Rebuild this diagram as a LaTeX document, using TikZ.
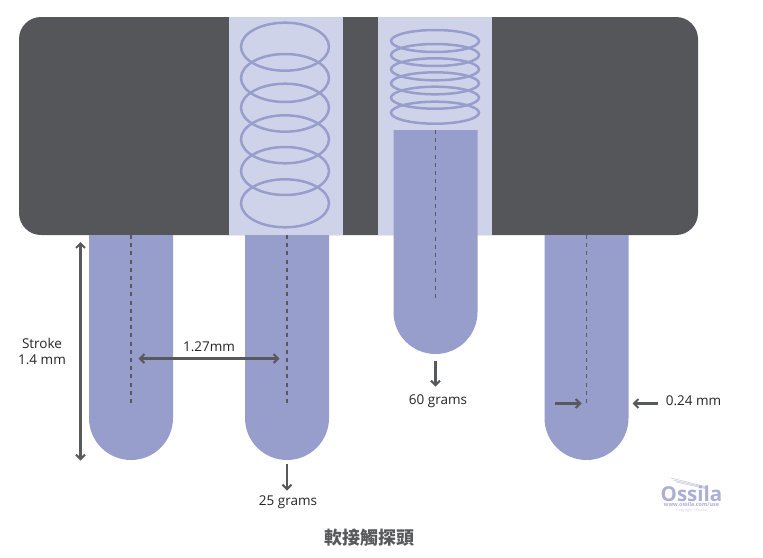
\documentclass[tikz,border=0pt]{standalone}
\usepackage{fontspec}
\setmainfont{Open Sans}
\newfontfamily\cjkfont{Noto Sans CJK TC}
\usetikzlibrary{arrows.meta}
\definecolor{bodygrey}{HTML}{55565A}
\definecolor{panel}{HTML}{CFD3EA}
\definecolor{pin}{HTML}{989ECC}
\definecolor{inkgrey}{HTML}{58595B}
\definecolor{logoc}{HTML}{ABAFD6}
\tikzset{
  x=1pt,y=-1pt,
  coil/.style={draw=pin,line width=2.5pt,fill=none},
  pinfill/.style={fill=pin,draw=none},
  centre/.style={draw=inkgrey,line width=1.9pt,dash pattern=on 4pt off 4.2pt},
  dim/.style={draw=inkgrey,line width=2.3pt,-{Straight Barb[length=4.5pt,width=9pt,line width=2pt]}},
  dimboth/.style={dim,{Straight Barb[length=4.5pt,width=9pt,line width=2pt]}-{Straight Barb[length=4.5pt,width=9pt,line width=2pt]}},
  lab/.style={inner sep=0pt,font=\fontsize{13.5pt}{16pt}\selectfont,text=black!85,align=center}
}
\begin{document}
\begin{tikzpicture}
\useasboundingbox (0,0) rectangle (763,557);
\fill[white] (0,0) rectangle (763,557);
% body
\fill[bodygrey,rounded corners=22pt] (19,17) rectangle (698,235);
\fill[panel] (228.5,17) rectangle (342.5,234.5);
\fill[panel] (378,17) rectangle (492,234.5);
% coils
\foreach \cy in {46.7,78,107.7,139.3,171,203.3} \draw[coil] (285,\cy) ellipse [x radius=44,y radius=24];
\foreach \cy in {41,55,69.3,83.3,97.7,112.7} \draw[coil] (435,\cy) ellipse [x radius=44,y radius=11];
% pins
\fill[pinfill] (89,235) -- (173,235) -- (173,418) arc[start angle=0,end angle=180,x radius=42,y radius=42] -- cycle;
\fill[pinfill] (245,235) -- (329,235) -- (329,418) arc[start angle=0,end angle=180,x radius=42,y radius=42] -- cycle;
\fill[pinfill] (393.5,130) -- (477.5,130) -- (477.5,312) arc[start angle=0,end angle=180,x radius=42,y radius=42] -- cycle;
\fill[pinfill] (544.5,235) -- (628.5,235) -- (628.5,418) arc[start angle=0,end angle=180,x radius=42,y radius=42] -- cycle;
% coordinates
\coordinate (c1a) at (131,235); \coordinate (c1b) at (131,404);
\coordinate (c2a) at (287,235); \coordinate (c2b) at (287,404);
\coordinate (c3a) at (435.5,130); \coordinate (c3b) at (435.5,298);
\coordinate (c4a) at (586.5,235); \coordinate (c4b) at (586.5,404);
\coordinate (sa) at (80.5,242); \coordinate (sb) at (80.5,460.5);
\coordinate (wa) at (138.5,358.5); \coordinate (wb) at (279.5,358.5);
\coordinate (ga) at (287,464); \coordinate (gb) at (287,490.5);
\coordinate (ha) at (435.5,361); \coordinate (hb) at (435.5,386.5);
\coordinate (ta) at (555,403.5); \coordinate (tb) at (581.5,403.5);
\coordinate (ua) at (658,403.5); \coordinate (ub) at (632.5,403.5);
\draw[centre] (c1a) -- (c1b);
\draw[centre] (c2a) -- (c2b);
\draw[centre] (c3a) -- (c3b);
\draw[centre] (c4a) -- (c4b);
\draw[dimboth] (sa) -- (sb);
\draw[dimboth] (wa) -- (wb);
\draw[dim] (ga) -- (gb);
\draw[dim] (ha) -- (hb);
\draw[dim] (ta) -- (tb);
\draw[dim] (ua) -- (ub);
% labels
\node[lab] (stroke) at (42,351) {Stroke\\1.4 mm};
\node[lab] (pitch) at (209,347) {1.27mm};
\node[lab] (g25) at (288,502.5) {25 grams};
\node[lab] (g60) at (438,401) {60 grams};
\node[lab] (dia) at (693.5,400.5) {0.24 mm};
\node[inner sep=0pt,text=inkgrey] (title) at (369,538) {\cjkfont\fontsize{18pt}{20pt}\selectfont\bfseries 軟接觸探頭};
% logo
\draw[logoc!70,line width=0.5pt] (671,478) -- (705,486.5) (673,480) -- (705,487.5) (676,482) -- (705,488.5);
\node[inner sep=0pt,text=logoc] (logo) at (691.5,493.5) {\fontsize{20.5pt}{22pt}\selectfont\bfseries Ossila};
\node[inner sep=0pt,text=logoc] (url) at (691.5,504) {\fontsize{5.4pt}{5.5pt}\selectfont\bfseries www.ossila.com/use};
\node[inner sep=0pt,text=logoc!60] (copy) at (691.5,510.6) {\fontsize{3.6pt}{4pt}\selectfont Copyright ©Ossila};
\end{tikzpicture}
\end{document}
